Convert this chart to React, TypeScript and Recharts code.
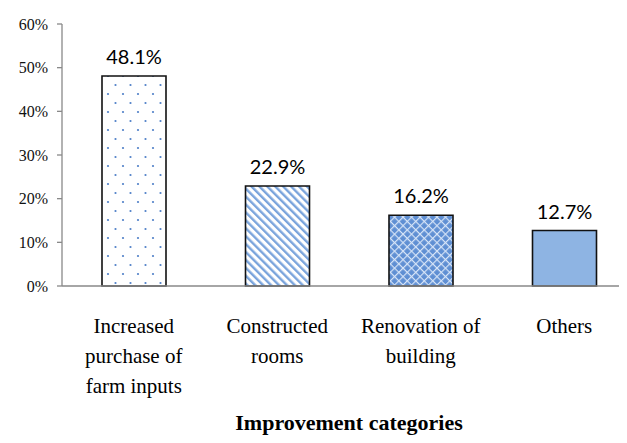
import { BarChart, Bar, XAxis, YAxis, Cell, LabelList } from 'recharts';

// category names, line breaks as in the source figure
const categories = [
  'Increased\npurchase of\nfarm inputs',
  'Constructed\nrooms',
  'Renovation of\nbuilding',
  'Others',
];
const shares = [48.1, 22.9, 16.2, 12.7];
const yTicks = [0, 10, 20, 30, 40, 50, 60];
const barFills = ['url(#dots)', 'url(#stripes)', 'url(#diamonds)', '#8EB4E3'];
const axisTitle = 'Improvement categories';

const data = categories.map((name, i) => ({ name, share: shares[i] }));

const serif = '"Liberation Serif", "Times New Roman", serif';

const CategoryTick = (props: any) => {
  const { x, y, payload } = props;
  const lines = String(payload.value).split('\n');
  return (
    <g transform={`translate(${x},${y})`}>
      <text textAnchor="middle" style={{ fontFamily: serif, fontSize: 21 }} fill="#000">
        {lines.map((line, i) => (
          <tspan key={i} x={0} y={47 + i * 30}>
            {line}
          </tspan>
        ))}
      </text>
    </g>
  );
};

// title near the bottom edge, kept fully inside the picture
const AxisTitle = (props: any) => {
  const { x, y, width, height } = props.viewBox;
  return (
    <text
      x={x + width / 2}
      y={y + height - 13}
      textAnchor="middle"
      style={{ fontFamily: serif, fontSize: 22, fontWeight: 700 }}
      fill="#000"
    >
      {axisTitle}
    </text>
  );
};

export default function App() {
  return (
    <div style={{ margin: -8, width: 627, height: 443, overflow: 'hidden', background: '#fff' }}>
      <BarChart
        width={640}
        height={443}
        data={data}
        margin={{ top: 24, right: 4, bottom: 0, left: 0 }}
      >
        <defs>
          <pattern id="dots" patternUnits="userSpaceOnUse" width={15} height={18}>
            <rect width={15} height={18} fill="#fff" />
            <circle cx={3} cy={4} r={1.1} fill="#4F80C8" />
            <circle cx={10.5} cy={13} r={1.1} fill="#4F80C8" />
          </pattern>
          <pattern
            id="stripes"
            patternUnits="userSpaceOnUse"
            width={5.6}
            height={10}
            patternTransform="rotate(-45)"
          >
            <rect width={5.6} height={10} fill="#fff" />
            <rect width={2.4} height={10} fill="#7AA4DC" />
          </pattern>
          <pattern
            id="diamonds"
            patternUnits="userSpaceOnUse"
            width={6}
            height={6}
            patternTransform="rotate(45)"
          >
            <rect width={6} height={6} fill="#5F8FD3" />
            <rect width={1.2} height={6} fill="#D6E4F7" />
            <rect width={6} height={1.2} fill="#D6E4F7" />
          </pattern>
        </defs>
        <XAxis
          dataKey="name"
          interval={0}
          axisLine={{ stroke: '#898989', strokeWidth: 1.3 }}
          tickLine={false}
          tickSize={0}
          tickMargin={0}
          height={157}
          tick={<CategoryTick />}
          label={<AxisTitle />}
        />
        <YAxis
          domain={[0, 60]}
          ticks={yTicks}
          tickFormatter={(v: number) => `${v}%`}
          width={62}
          axisLine={{ stroke: '#898989', strokeWidth: 1.3 }}
          tickLine={{ stroke: '#898989', strokeWidth: 1.3 }}
          tickSize={5}
          tickMargin={9}
          tick={{ fontFamily: serif, fontSize: 16, fill: '#111' }}
        />
        <Bar
          dataKey="share"
          barSize={64}
          stroke="#111"
          strokeWidth={1.6}
          isAnimationActive={false}
        >
          {data.map((d, i) => (
            <Cell key={d.name} fill={barFills[i]} />
          ))}
          <LabelList
            dataKey="share"
            position="top"
            offset={12}
            formatter={(v: any) => `${Number(v).toFixed(1)}%`}
            style={{ fontFamily: 'Lato, "Open Sans", sans-serif', fontSize: 20, fill: '#000' }}
          />
        </Bar>
      </BarChart>
    </div>
  );
}
